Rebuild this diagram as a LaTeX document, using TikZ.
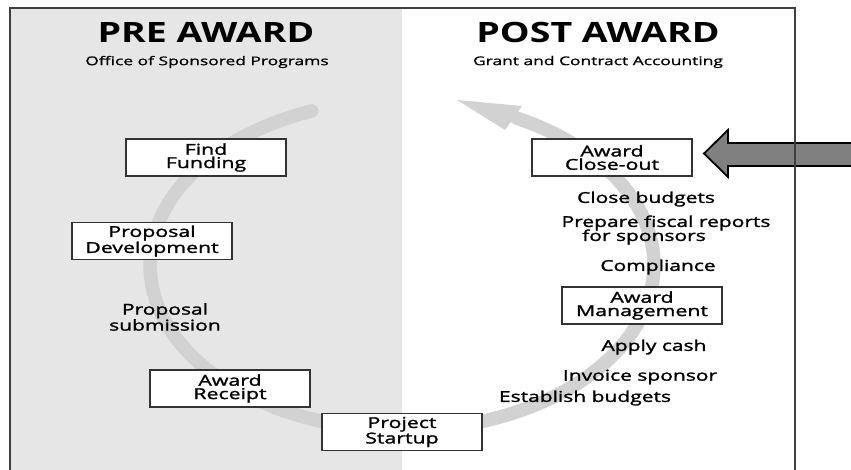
\documentclass[tikz,border=0pt]{standalone}
\usepackage{fontspec}
\setmainfont{Open Sans}
\newfontfamily\boxfont{Open Sans}[FakeStretch=1.42, FakeBold=1.6]
\newfontfamily\lblfont{Open Sans}[FakeStretch=1.40, FakeBold=1.6]
\newfontfamily\subfont{Open Sans}[FakeStretch=1.45, FakeBold=1.0]
\newfontfamily\titlefont{Open Sans Bold}[FakeStretch=1.34]
\begin{document}
\begin{tikzpicture}[x=1pt,y=-1pt,
  stagebox/.style={draw=black!80, line width=1.5pt, fill=white, minimum width=160pt, minimum height=37pt, inner sep=0pt, align=center, font=\boxfont\fontsize{15}{13.3}\selectfont},
  lbl/.style={inner sep=0pt, align=center, font=\lblfont\fontsize{15}{13.3}\selectfont},
  title/.style={inner sep=0pt, font=\titlefont\fontsize{28}{30}\selectfont},
  subtitle/.style={inner sep=0pt, font=\subfont\fontsize{12}{13}\selectfont}]
\definecolor{bgpre}{HTML}{E6E6E6}
\definecolor{arcgray}{HTML}{D2D2D2}
\definecolor{bigarrow}{HTML}{808080}
\useasboundingbox (0,0) rectangle (851,470);
\fill[white] (0,0) rectangle (851,470);
\fill[bgpre] (10,8) rectangle (402,470);
% cycle arc
\draw[arcgray, line width=13.5pt, line cap=round] plot[domain=111:423, samples=120] ({402+252*cos(\x)}, {265-165*sin(\x)});
\fill[arcgray] (457,100) -- (522,106) -- (505,130) -- cycle;
% titles
\node[title] (pre) at (206,32) {PRE AWARD};
\node[title] (post) at (598,32) {POST AWARD};
\node[subtitle] (osp) at (207,62) {Office of Sponsored Programs};
\node[subtitle] (gca) at (598,62) {Grant and Contract Accounting};
% boxes
\node[stagebox] (find) at (206,157.5) {Find\\Funding};
\node[stagebox] (dev) at (152,241) {Proposal\\Development};
\node[stagebox] (receipt) at (230,388.5) {Award\\Receipt};
\node[stagebox] (startup) at (402,432) {Project\\Startup};
\node[stagebox] (closeout) at (612,157.5) {Award\\Close-out};
\node[stagebox] (mgmt) at (642,305.5) {Award\\Management};
% labels
\node[lbl] (sub) at (165,317) {Proposal\\submission};
\node[lbl] (closebud) at (646,199) {Close budgets};
\node[lbl] (prep) at (666,223) {Prepare fiscal reports};
\node[lbl, anchor=west] (forsp) at (582,237) {for sponsors};
\node[lbl] (comp) at (658,267) {Compliance};
\node[lbl] (cash) at (654,347) {Apply cash};
\node[lbl] (inv) at (640,377) {Invoice sponsor};
\node[lbl] (est) at (585,398) {Establish budgets};
% big pointer arrow
\coordinate (ptip) at (704,153.5);
\draw[black, line width=1.8pt, fill=bigarrow, line join=miter]
  (ptip) -- (728,130) -- (728,143) -- (860,143) -- (860,166) -- (728,166) -- (728,177) -- cycle;
% frame
\draw[black!75, line width=1.8pt] (10,472) -- (10,8) -- (795,8) -- (795,472);
\end{tikzpicture}
\end{document}
